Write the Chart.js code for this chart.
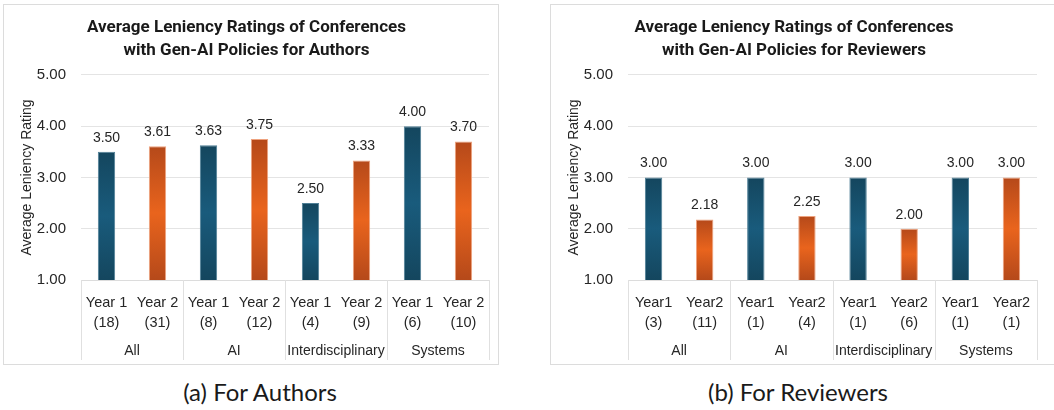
<!DOCTYPE html>
<html>
<head>
<meta charset="utf-8">
<script src="https://cdn.jsdelivr.net/npm/chart.js@4.4.1/dist/chart.umd.min.js"></script>
<style>
  body { margin: 0; background: #fff; width: 1054px; height: 410px; position: relative; overflow: hidden; }
  .panel { position: absolute; top: 4px; height: 361px; border: 1px solid #dcdcdc; box-sizing: border-box; background: #fff; }
  .caption { position: absolute; top: 377px; font-family: Lato, 'Open Sans', sans-serif; font-size: 24px; color: #1a1a1a; transform: translateX(-50%); white-space: nowrap; }
</style>
</head>
<body>
<div class="panel" style="left:3px; width:496px;"><canvas id="authorsChart"></canvas></div>
<div class="panel" style="left:550px; width:505px;"><canvas id="reviewersChart"></canvas></div>
<div class="caption" style="left:260px;">(a) For Authors</div>
<div class="caption" style="left:798px;">(b) For Reviewers</div>
<script>
const groups = ['All', 'AI', 'Interdisciplinary', 'Systems'];

const authorYears = ['Year 1', 'Year 2', 'Year 1', 'Year 2', 'Year 1', 'Year 2', 'Year 1', 'Year 2'];
const authorCounts = [18, 31, 8, 12, 4, 9, 6, 10];
const authorValues = [3.50, 3.61, 3.63, 3.75, 2.50, 3.33, 4.00, 3.70];

const reviewerYears = ['Year1', 'Year2', 'Year1', 'Year2', 'Year1', 'Year2', 'Year1', 'Year2'];
const reviewerCounts = [3, 11, 1, 4, 1, 6, 1, 1];
const reviewerValues = [3.00, 2.18, 3.00, 2.25, 3.00, 2.00, 3.00, 3.00];

const yTicks = [1, 2, 3, 4, 5];

Chart.defaults.font.family = "'Liberation Sans', Arial, sans-serif";
Chart.defaults.color = '#262626';

// vertical gradient per bar: dark ends, lighter middle
function barFill(ctx) {
    const chart = ctx.chart;
    const yScale = chart.scales.y;
    const blue = ctx.dataIndex % 2 == 0;
    if (!chart.chartArea || !yScale) return blue ? '#18597a' : '#e8631d';
    const top = yScale.getPixelForValue(ctx.raw);
    const bottom = yScale.getPixelForValue(yScale.min);
    const g = chart.ctx.createLinearGradient(0, top, 0, bottom);
    if (blue) {
        g.addColorStop(0, '#14465e');
        g.addColorStop(0.5, '#195b7c');
        g.addColorStop(1, '#14465e');
    } else {
        g.addColorStop(0, '#b5491a');
        g.addColorStop(0.5, '#e9641d');
        g.addColorStop(1, '#b5491a');
    }
    return g;
}

const valueLabels = {
    id: 'valueLabels',
    afterDatasetsDraw(chart) {
        const c = chart.ctx;
        const meta = chart.getDatasetMeta(0);
        const vals = chart.data.datasets[0].data;
        c.save();
        c.font = "14px 'Liberation Sans', Arial, sans-serif";
        c.fillStyle = '#262626';
        c.textAlign = 'center';
        c.textBaseline = 'middle';
        meta.data.forEach((bar, i) => {
            c.fillText(vals[i].toFixed(2), bar.x, bar.y - 14);
        });
        c.restore();
    }
};

const groupAxis = {
    id: 'groupAxis',
    afterDraw(chart) {
        const xs = chart.scales.x;
        const c = chart.ctx;
        const n = chart.data.labels.length;
        const edges = [];
        for (let k = 0; k <= n; k += 2) {
            if (k == 0) edges.push(xs.left);
            else if (k == n) edges.push(xs.right);
            else edges.push((xs.getPixelForValue(k - 1) + xs.getPixelForValue(k)) / 2);
        }
        c.save();
        c.strokeStyle = '#e0e0e0';
        c.lineWidth = 1;
        edges.forEach(px => {
            c.beginPath();
            c.moveTo(Math.round(px) + 0.5, xs.top);
            c.lineTo(Math.round(px) + 0.5, xs.top + 80);
            c.stroke();
        });
        c.font = "14px 'Liberation Sans', Arial, sans-serif";
        c.fillStyle = '#262626';
        c.textAlign = 'center';
        c.textBaseline = 'middle';
        groups.forEach((g, i) => {
            c.fillText(g, (edges[i] + edges[i + 1]) / 2, xs.top + 71);
        });
        c.restore();
    }
};

function makeChart(id, titleLines, years, counts, values, rightPad) {
    const labels = years.map((y, i) => [y, '(' + counts[i] + ')']);
    return new Chart(document.getElementById(id), {
        type: 'bar',
        data: {
            labels: labels,
            datasets: [{
                data: values,
                backgroundColor: barFill,
                borderColor: ctx => ctx.dataIndex % 2 == 0 ? '#4f7f96' : '#eea27e',
                borderWidth: 1,
                barPercentage: 1,
                categoryPercentage: 0.34
            }]
        },
        options: {
            responsive: true,
            maintainAspectRatio: false,
            animation: false,
            layout: { padding: { left: 0, right: rightPad, top: 0, bottom: 4 } },
            plugins: {
                legend: { display: false },
                tooltip: { enabled: false },
                title: {
                    display: true,
                    text: titleLines,
                    color: '#1a1a1a',
                    font: { family: 'Roboto', size: 17, weight: 'bold', lineHeight: 1.35 },
                    padding: { top: 11, bottom: 13 }
                }
            },
            scales: {
                x: {
                    grid: { display: false, drawTicks: false },
                    border: { display: true, color: '#dcdcdc' },
                    ticks: {
                        autoSkip: false,
                        maxRotation: 0,
                        padding: 13,
                        color: '#262626',
                        font: { size: 14.5, lineHeight: 1.38 }
                    },
                    afterFit: s => { s.height = 80; }
                },
                y: {
                    min: 1,
                    max: 5,
                    afterBuildTicks: s => { s.ticks = yTicks.map(v => ({ value: v })); },
                    grid: { color: '#e4e4e4', drawTicks: false },
                    border: { display: false },
                    ticks: {
                        padding: 15,
                        color: '#262626',
                        font: { size: 15 },
                        callback: v => v.toFixed(2)
                    },
                    title: {
                        display: true,
                        text: 'Average Leniency Rating',
                        color: '#262626',
                        font: { size: 14 },
                        padding: { top: 15, bottom: 0 }
                    },
                    afterFit: s => { s.width = 77; }
                }
            }
        },
        plugins: [valueLabels, groupAxis]
    });
}

makeChart('authorsChart',
    ['Average Leniency Ratings of Conferences', 'with Gen-AI Policies for Authors'],
    authorYears, authorCounts, authorValues, 9);
makeChart('reviewersChart',
    ['Average Leniency Ratings of Conferences', 'with Gen-AI Policies for Reviewers'],
    reviewerYears, reviewerCounts, reviewerValues, 17);
</script>
</body>
</html>
